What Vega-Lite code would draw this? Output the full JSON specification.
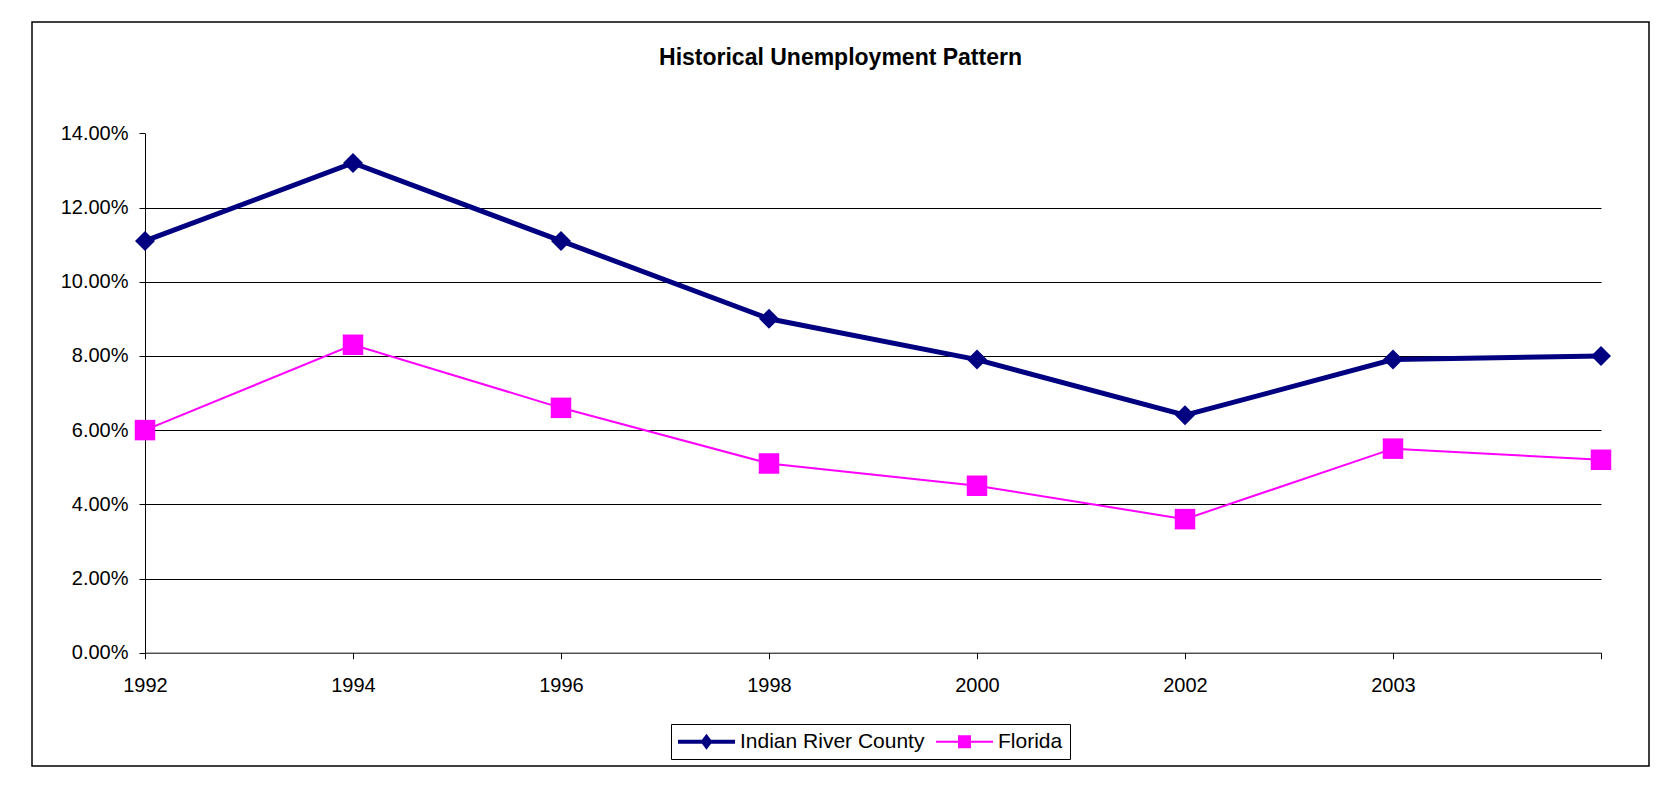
{
  "$schema": "https://vega.github.io/schema/vega-lite/v6.json",
  "autosize": {"type": "none"},
  "width": 1617,
  "height": 744,
  "padding": {"left": 32, "top": 22, "right": 29, "bottom": 23},
  "background": "white",
  "config": {
    "font": "Liberation Sans",
    "view": {"stroke": "black", "strokeWidth": 1.5}
  },
  "title": {
    "text": "Historical Unemployment Pattern",
    "fontSize": 23,
    "fontWeight": "bold",
    "font": "Liberation Sans",
    "color": "black",
    "anchor": "middle",
    "frame": "group",
    "baseline": "alphabetic",
    "offset": -66
  },
  "data": {
    "values": [
      {"year": "1992", "series": "Indian River County", "value": 0.111},
      {"year": "1994", "series": "Indian River County", "value": 0.132},
      {"year": "1996", "series": "Indian River County", "value": 0.111},
      {"year": "1998", "series": "Indian River County", "value": 0.090},
      {"year": "2000", "series": "Indian River County", "value": 0.079},
      {"year": "2002", "series": "Indian River County", "value": 0.064},
      {"year": "2003", "series": "Indian River County", "value": 0.079},
      {"year": "", "series": "Indian River County", "value": 0.080},
      {"year": "1992", "series": "Florida", "value": 0.060},
      {"year": "1994", "series": "Florida", "value": 0.083},
      {"year": "1996", "series": "Florida", "value": 0.066},
      {"year": "1998", "series": "Florida", "value": 0.051},
      {"year": "2000", "series": "Florida", "value": 0.045},
      {"year": "2002", "series": "Florida", "value": 0.036},
      {"year": "2003", "series": "Florida", "value": 0.055},
      {"year": "", "series": "Florida", "value": 0.052}
    ]
  },
  "encoding": {
    "x": {
      "field": "year",
      "type": "ordinal",
      "scale": {"type": "point", "domain": ["1992", "1994", "1996", "1998", "2000", "2002", "2003", ""], "range": [113, 1569], "padding": 0},
      "axis": {
        "orient": "bottom",
        "offset": -113.3,
        "title": null,
        "labelAngle": 0,
        "labelFontSize": 20,
        "labelFont": "Liberation Sans",
        "labelColor": "black",
        "labelPadding": 17,
        "tickSize": 6,
        "tickColor": "black",
        "domainColor": "black",
        "domainWidth": 1,
        "grid": false
      }
    },
    "y": {
      "field": "value",
      "type": "quantitative",
      "scale": {"domain": [0, 0.14], "range": [630.7, 111.3], "nice": false, "zero": true},
      "axis": {
        "orient": "left",
        "offset": -113,
        "values": [0, 0.02, 0.04, 0.06, 0.08, 0.1, 0.12, 0.14],
        "format": ".2%",
        "title": null,
        "grid": true,
        "gridColor": "black",
        "gridWidth": 1,
        "gridOpacity": {"condition": {"test": "datum.value > 0.139 || datum.value < 0.001", "value": 0}, "value": 1},
        "domainColor": "black",
        "domainWidth": 1,
        "tickColor": "black",
        "tickSize": 6,
        "labelFontSize": 20,
        "labelFont": "Liberation Sans",
        "labelColor": "black",
        "labelPadding": 11
      }
    }
  },
  "layer": [
    {
      "transform": [{"filter": "datum.series == 'Indian River County'"}],
      "mark": {"type": "line", "color": "#000080", "strokeWidth": 5}
    },
    {
      "transform": [{"filter": "datum.series == 'Indian River County'"}],
      "mark": {"type": "point", "shape": "diamond", "filled": true, "size": 400, "color": "#000080", "opacity": 1}
    },
    {
      "transform": [{"filter": "datum.series == 'Florida'"}],
      "mark": {"type": "line", "color": "#FF00FF", "strokeWidth": 2}
    },
    {
      "transform": [{"filter": "datum.series == 'Florida'"}],
      "mark": {"type": "point", "shape": "square", "filled": true, "size": 420, "color": "#FF00FF", "opacity": 1}
    },
    {
      "mark": {"type": "point", "filled": true, "size": 400, "opacity": 0},
      "encoding": {
        "color": {
          "field": "series",
          "type": "nominal",
          "scale": {"domain": ["Indian River County", "Florida"], "range": ["#000080", "#FF00FF"]},
          "legend": {
            "orient": "none",
            "legendX": 639,
            "legendY": 702,
            "direction": "horizontal",
            "title": null,
            "padding": 7,
            "strokeColor": "black",
            "fillColor": "white",
            "labelFontSize": 21,
            "labelFont": "Liberation Sans",
            "labelColor": "black",
            "labelOffset": 41,
            "labelLimit": 400,
            "columnPadding": 11,
            "symbolSize": 400,
            "symbolStrokeWidth": 0,
            "symbolOpacity": 1
          }
        },
        "shape": {
          "field": "series",
          "type": "nominal",
          "scale": {
            "domain": ["Indian River County", "Florida"],
            "range": [
              "M-1.05,-0.2H4.65V0.2H-1.05Z M1.8,-0.8L2.4,0L1.8,0.8L1.2,0Z",
              "M-1.05,-0.1H4.65V0.1H-1.05Z M1.15,-0.65H2.45V0.65H1.15Z"
            ]
          },
          "legend": {
            "orient": "none",
            "legendX": 639,
            "legendY": 702,
            "direction": "horizontal",
            "title": null,
            "padding": 7,
            "strokeColor": "black",
            "fillColor": "white",
            "labelFontSize": 21,
            "labelFont": "Liberation Sans",
            "labelColor": "black",
            "labelOffset": 41,
            "labelLimit": 400,
            "columnPadding": 11,
            "symbolSize": 400,
            "symbolStrokeWidth": 0,
            "symbolOpacity": 1
          }
        }
      }
    }
  ]
}
